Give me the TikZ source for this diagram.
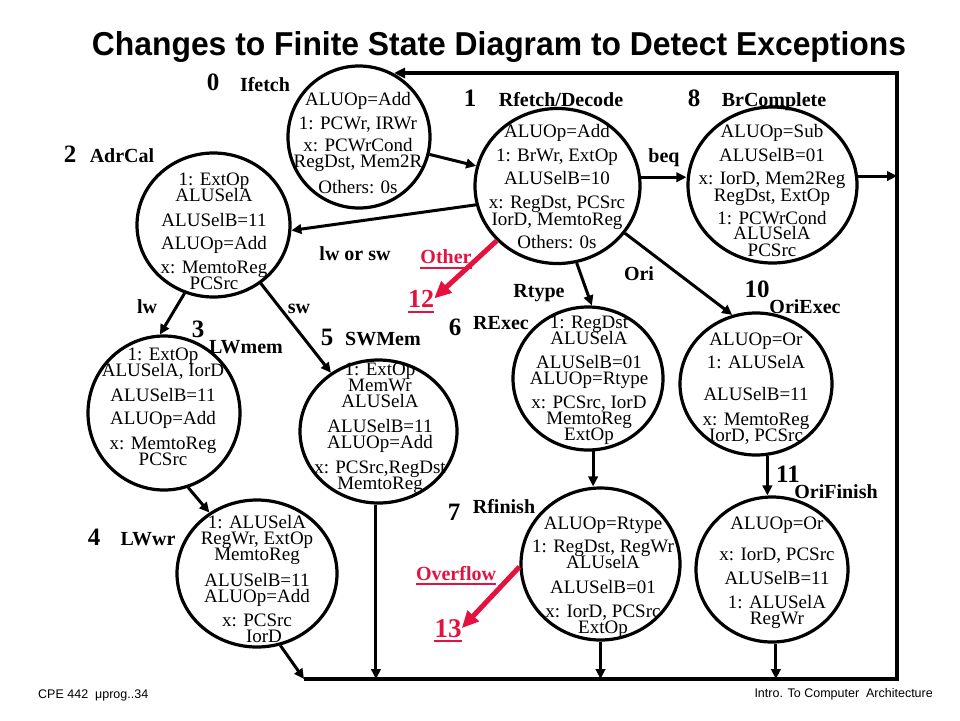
\documentclass[tikz,border=0pt]{standalone}
\usepackage{fontspec}
\setmainfont{Liberation Serif}
\newfontfamily\mysans{Liberation Sans}
\usetikzlibrary{shapes.geometric,arrows.meta}
\definecolor{exred}{RGB}{228,18,62}
\newcommand\myTxtFont{\fontsize{19}{16}\selectfont\lineskiplimit=-30pt\lineskip=0pt}
\newcommand\myLblFont{\fontsize{20}{22}\selectfont\bfseries}
\newcommand\myNumFont{\fontsize{25}{28}\selectfont\bfseries}
\begin{document}
\begin{tikzpicture}[x=1pt,y=-1pt,
  st/.style={draw, ellipse, line width=3.2pt, inner sep=0pt},
  txt/.style={font=\myTxtFont, align=center, inner sep=0pt, anchor=north},
  lbl/.style={font=\myLblFont, inner sep=0pt, anchor=base},
  num/.style={font=\myNumFont, inner sep=0pt, anchor=base},
  rlbl/.style={lbl, text=exred},
  arr/.style={line width=3pt, -{Triangle[length=10pt,width=9.5pt]}},
  redarr/.style={line width=5pt, draw=exred, -{Triangle[length=17pt,width=15pt]}},
  loopline/.style={line width=4pt, line join=miter},
  uline/.style={draw=exred, line width=2.2pt},
]
\useasboundingbox (0,0) rectangle (960,720);

% title
\node[anchor=base, inner sep=0pt] (title) at (499,55)
  {\resizebox{814pt}{24pt}{\mysans\bfseries Changes to Finite State Diagram to Detect Exceptions}};

% states
\node[st, minimum width=142pt, minimum height=142pt] (s0) at (359,137) {};
\node[txt] (t0) at (358,92.4) {ALUOp=Add\\[8pt]1: PCWr, IRWr\\[6pt]x: PCWrCond\\RegDst, Mem2R\\[10pt]Others: 0s};

\node[st, minimum width=165pt, minimum height=155pt] (s1) at (557.5,186) {};
\node[txt] (t1) at (557,124.4) {ALUOp=Add\\[8pt]1: BrWr, ExtOp\\[7pt]ALUSelB=10\\[8pt]x: RegDst, PCSrc\\[1pt]IorD, MemtoReg\\[7pt]Others: 0s};

\node[st, minimum width=169pt, minimum height=156pt] (s8) at (772.5,185) {};
\node[txt] (t8) at (772,124.4) {ALUOp=Sub\\[8pt]ALUSelB=01\\[7pt]x: IorD, Mem2Reg\\[1pt]RegDst, ExtOp\\[7pt]1: PCWrCond\\[-1pt]ALUSelA\\[1pt]PCSrc};

\node[st, minimum width=153pt, minimum height=144pt] (s2) at (213.5,225) {};
\node[txt] (t2) at (214,172.4) {1: ExtOp\\ALUSelA\\[9pt]ALUSelB=11\\[7pt]ALUOp=Add\\[8pt]x: MemtoReg\\PCSrc};

\node[st, minimum width=152pt, minimum height=154pt] (s3) at (164,413) {};
\node[txt] (t3) at (163,347.4) {1: ExtOp\\ALUSelA, IorD\\[9pt]ALUSelB=11\\[7pt]ALUOp=Add\\[9pt]x: MemtoReg\\PCSrc};

\node[st, minimum width=157pt, minimum height=143pt] (s5) at (378.5,431.5) {};
\node[txt] (t5) at (380,362.4) {1: ExtOp\\MemWr\\ALUSelA\\[9pt]ALUSelB=11\\ALUOp=Add\\[9pt]x: PCSrc,RegDst\\MemtoReg};

\node[st, minimum width=150pt, minimum height=143pt] (s6) at (588,378.5) {};
\node[txt] (t6) at (589,315.4) {1: RegDst\\ALUSelA\\[8pt]ALUSelB=01\\ALUOp=Rtype\\[8pt]x: PCSrc, IorD\\MemtoReg\\ExtOp};

\node[st, minimum width=152pt, minimum height=142pt] (s10) at (756,384) {};
\node[txt] (t10) at (756,332.4) {ALUOp=Or\\[7pt]1: ALUSelA\\[16pt]ALUSelB=11\\[9pt]x: MemtoReg\\IorD, PCSrc};

\node[st, minimum width=160pt, minimum height=147pt] (s4) at (257,573.5) {};
\node[txt] (t4) at (257,515.4) {1: ALUSelA\\RegWr, ExtOp\\MemtoReg\\[10pt]ALUSelB=11\\ALUOp=Add\\[8pt]x: PCSrc\\\hspace*{14pt}IorD};

\node[st, minimum width=159pt, minimum height=152pt] (s7) at (600.5,564) {};
\node[txt] (t7) at (603,516.4) {ALUOp=Rtype\\[7pt]1: RegDst, RegWr\\ALUselA\\[9pt]ALUSelB=01\\[8pt]x: IorD, PCSrc\\ExtOp};

\node[st, minimum width=152pt, minimum height=145pt] (s11) at (772,569.5) {};
\node[txt] (t11) at (777,516.4) {ALUOp=Or\\[15pt]x: IorD, PCSrc\\[8pt]ALUSelB=11\\[8pt]1: ALUSelA\\RegWr};

% state numbers and names
\node[num] (n0) at (213,90) {0};   \node[lbl] (l0) at (265,91) {Ifetch};
\node[num] (n1) at (470,106) {1};  \node[lbl] (l1) at (561,106) {Rfetch/Decode};
\node[num] (n8) at (694,106) {8};  \node[lbl] (l8) at (774,106) {BrComplete};
\node[num] (n2) at (70,162) {2};   \node[lbl] (l2) at (122,162) {AdrCal};
\node[num] (n3) at (198,337) {3};  \node[lbl] (l3) at (246,353) {LWmem};
\node[num] (n5) at (327,345) {5};  \node[lbl] (l5) at (383,345) {SWMem};
\node[num] (n6) at (455,335) {6};  \node[lbl] (l6) at (501,329) {RExec};
\node[num] (n10) at (757,297) {10}; \node[lbl] (l10) at (805,313) {OriExec};
\node[num] (n11) at (788,482) {11}; \node[lbl] (l11) at (836,498) {OriFinish};
\node[num] (n7) at (454,520) {7};  \node[lbl] (l7) at (504,513) {Rfinish};
\node[num] (n4) at (94,545) {4};   \node[lbl] (l4) at (148,545) {LWwr};

% edge labels
\node[lbl] (eBeq) at (664,162) {beq};
\node[lbl] (eLwsw) at (355,260) {lw or sw};
\node[lbl] (eLw) at (147,313) {lw};
\node[lbl] (eSw) at (299,313) {sw};
\node[lbl] (eRt) at (539,297) {Rtype};
\node[lbl] (eOri) at (639,280) {Ori};
\node[rlbl] (eOther) at (446,263) {Other};
\node[rlbl, font=\fontsize{26}{28}\selectfont\bfseries] (n12) at (421,307) {12};
\node[rlbl] (eOvf) at (456,580) {Overflow};
\node[rlbl, font=\fontsize{27}{28}\selectfont\bfseries] (n13) at (448,637) {13};
\draw[uline] ([yshift=-5pt]eOther.base west) -- ([yshift=-5pt]eOther.base east);
\draw[uline] ([yshift=-5pt]n12.base west) -- ([yshift=-5pt]n12.base east);
\draw[uline] ([yshift=-4pt]eOvf.base west) -- ([yshift=-4pt]eOvf.base east);
\draw[uline] ([yshift=-4pt]n13.base west) -- ([yshift=-4pt]n13.base east);

% footer
\node[anchor=base west, inner sep=0pt, font=\mysans\fontsize{12.5}{14}\selectfont] (f1) at (38,698) {CPE 442\ \ μprog..34};
\node[anchor=base east, inner sep=0pt, font=\mysans\fontsize{12.5}{14}\selectfont] (f2) at (933,697) {Intro. To Computer\ \ Architecture};

% loop coordinates
\coordinate (BL) at (304,679);
\coordinate (BR) at (897,679);
\coordinate (TR) at (897,73);
\coordinate (T0) at (394,73);

% connectors
\draw[arr] (s0) -- (s1);
\draw[arr] (s1.193) -- (s2.-4);
\draw[arr] (s1.6) -- (s1.6 -| s8.west);
\draw[arr] (s8.6) -- (s8.6 -| TR);
\draw[arr] (s1.-76) -- (s6.87);
\draw[arr] (s1.-35) -- (s10.109);
\draw[arr] (s2.-113) -- (s3.93);
\draw[arr] (s2.-51) -- (s5.129);
\draw[arr] (s3.-72) -- (s4.128);
\draw[arr] (s4.-72) -- (BL);
\draw[arr] (s5.-92) -- (s5.-92 |- BL);
\draw[arr] (s6.-86) -- (s6.-86 |- s7.north);
\draw[arr] (s7.south) -- (s7.south |- BL);
\draw[arr] (s10.-81) -- (s10.-81 |- s11.north);
\draw[arr] (s11.-87) -- (s11.-87 |- BL);
\draw[loopline, -{Triangle[length=11pt,width=10pt]}] (BL) -- (BR) -- (TR) -- (T0);
\draw[redarr] (s1.222) -- (n12.east);
\draw[redarr] (s7.182) -- (n13.east);
\end{tikzpicture}
\end{document}
